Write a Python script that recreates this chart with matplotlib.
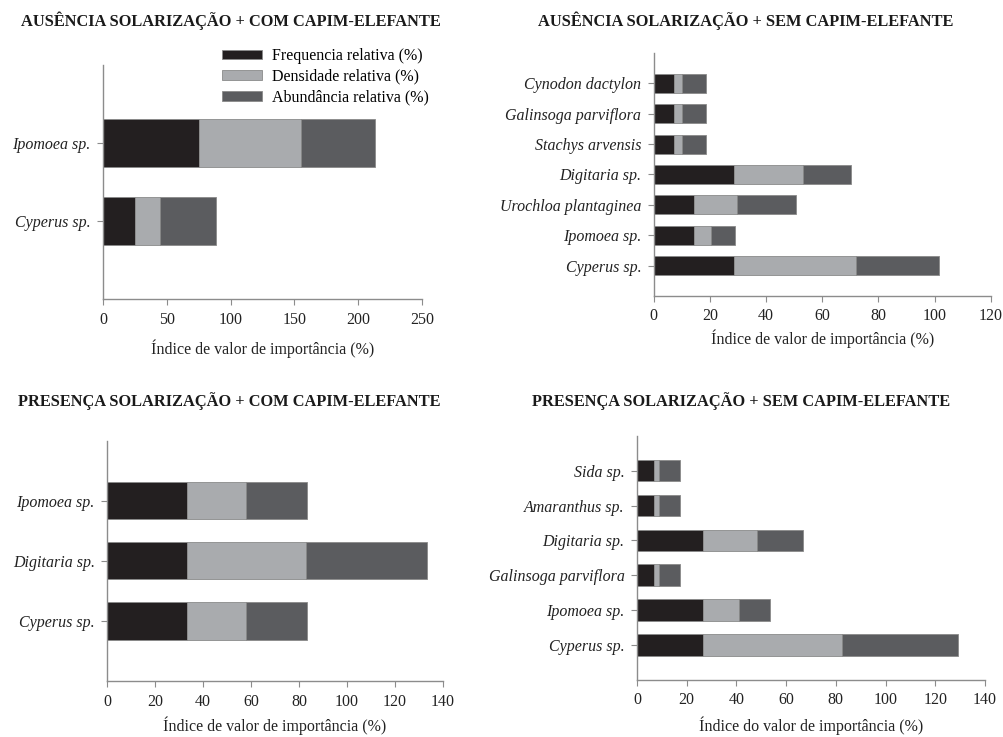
import matplotlib
matplotlib.use("Agg")
import matplotlib.pyplot as plt
import numpy as np

plt.rcParams["font.family"] = ["Liberation Serif", "DejaVu Serif"]

# Series names and colours
series = ["Frequencia relativa (%)", "Densidade relativa (%)", "Abundância relativa (%)"]
colors = ["#231f20", "#a9abae", "#5b5c5f"]

# Panel 1: Ausência solarização + com capim-elefante
title1 = "AUSÊNCIA SOLARIZAÇÃO + COM CAPIM-ELEFANTE"
species1 = ["Cyperus sp.", "Ipomoea sp."]
freq1 = [25.0, 75.0]
dens1 = [19.5, 80.0]
abund1 = [43.8, 57.8]
xticks1 = [0, 50, 100, 150, 200, 250]

# Panel 2: Ausência solarização + sem capim-elefante
title2 = "AUSÊNCIA SOLARIZAÇÃO + SEM CAPIM-ELEFANTE"
species2 = ["Cyperus sp.", "Ipomoea sp.", "Urochloa plantaginea", "Digitaria sp.",
            "Stachys arvensis", "Galinsoga parviflora", "Cynodon dactylon"]
freq2 = [28.6, 14.3, 14.3, 28.6, 7.1, 7.1, 7.1]
dens2 = [43.4, 6.0, 15.3, 24.7, 2.9, 2.9, 2.9]
abund2 = [29.7, 8.6, 21.2, 17.0, 8.6, 8.6, 8.6]
xticks2 = [0, 20, 40, 60, 80, 100, 120]

# Panel 3: Presença solarização + com capim-elefante
title3 = "PRESENÇA SOLARIZAÇÃO + COM CAPIM-ELEFANTE"
species3 = ["Cyperus sp.", "Digitaria sp.", "Ipomoea sp."]
freq3 = [33.3, 33.3, 33.3]
dens3 = [24.6, 49.7, 24.6]
abund3 = [25.6, 50.6, 25.6]
xticks3 = [0, 20, 40, 60, 80, 100, 120, 140]

# Panel 4: Presença solarização + sem capim-elefante
title4 = "PRESENÇA SOLARIZAÇÃO + SEM CAPIM-ELEFANTE"
species4 = ["Cyperus sp.", "Ipomoea sp.", "Galinsoga parviflora", "Digitaria sp.",
            "Amaranthus sp.", "Sida sp."]
freq4 = [26.7, 26.7, 6.7, 26.7, 6.7, 6.7]
dens4 = [55.9, 14.5, 2.3, 21.6, 2.3, 2.3]
abund4 = [46.5, 12.3, 8.3, 18.5, 8.3, 8.3]
xticks4 = [0, 20, 40, 60, 80, 100, 120, 140]

xlabel_a = "Índice de valor de importância (%)"
xlabel_b = "Índice do valor de importância (%)"

W, H = 1004, 737
fig = plt.figure(figsize=(W / 100, H / 100), dpi=100)
fig.patch.set_facecolor("white")

axis_grey = "#8c8c8c"


def px_axes(x0, y0, x1, y1):
    return fig.add_axes([x0 / W, 1 - y1 / H, (x1 - x0) / W, (y1 - y0) / H])


def draw_panel(ax, species, freq, dens, abund, xticks, ytop, xlabel, labelpad):
    y = np.arange(len(species))
    left = np.zeros(len(species))
    handles = []
    for vals, c, name in zip([freq, dens, abund], colors, series):
        h = ax.barh(y, vals, left=left, height=0.62, color=c,
                    edgecolor="#8a8a8a", linewidth=0.6, label=name)
        handles.append(h)
        left = left + np.array(vals)
    ax.set_yticks(y)
    ax.set_yticklabels(species, fontstyle="italic", fontsize=11.5)
    ax.set_xticks(xticks)
    ax.set_xticklabels([str(t) for t in xticks], fontsize=11.5)
    ax.set_xlim(xticks[0], xticks[-1])
    ax.set_ylim(-1, ytop)
    for s in ["top", "right"]:
        ax.spines[s].set_visible(False)
    for s in ["left", "bottom"]:
        ax.spines[s].set_color(axis_grey)
        ax.spines[s].set_linewidth(1.0)
    ax.tick_params(axis="both", colors=axis_grey, labelcolor="#222222",
                   length=4, width=0.8, pad=5)
    ax.set_xlabel(xlabel, fontsize=11.5, color="#222222", labelpad=labelpad)
    return handles


ax1 = px_axes(103, 65, 422, 299)
h = draw_panel(ax1, species1, freq1, dens1, abund1, xticks1, 2.0, xlabel_a, 8.5)
fig.legend(handles=h, labels=series, loc="upper left",
           bbox_to_anchor=(222 / W, 1 - 48 / H), frameon=False,
           fontsize=11.5, handlelength=2.5, handleheight=0.55,
           labelspacing=0.3, handletextpad=0.6, borderpad=0, borderaxespad=0)

ax2 = px_axes(653.7, 53, 990.7, 296)
draw_panel(ax2, species2, freq2, dens2, abund2, xticks2, 7.0, xlabel_a, 3.5)

ax3 = px_axes(107.3, 440.7, 442.7, 681)
draw_panel(ax3, species3, freq3, dens3, abund3, xticks3, 3.0, xlabel_a, 5)

ax4 = px_axes(637, 435.7, 985, 680)
draw_panel(ax4, species4, freq4, dens4, abund4, xticks4, 6.0, xlabel_b, 5.5)

for txt, cx, cy in [(title1, 231, 21), (title2, 746, 21),
                    (title3, 229, 401), (title4, 741, 401)]:
    fig.text(cx / W, 1 - cy / H, txt, ha="center", va="center",
             fontsize=11.8, fontweight="bold", color="#1a1a1a")

fig.savefig("out.png", dpi=100, facecolor="white")
